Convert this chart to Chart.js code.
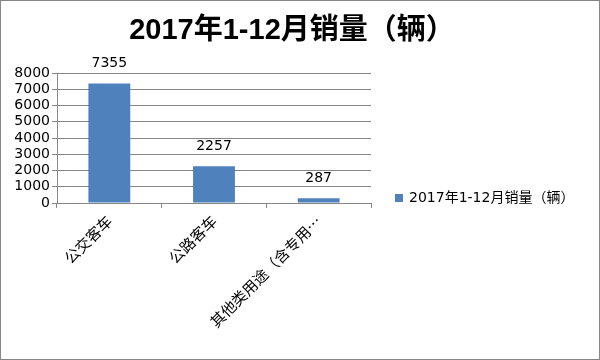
<!DOCTYPE html>
<html>
<head>
<meta charset="utf-8">
<script src="https://cdn.jsdelivr.net/npm/chart.js@4/dist/chart.umd.min.js"></script>
<style>
  html, body { margin: 0; padding: 0; background: #fff; }
  canvas { display: block; }
</style>
</head>
<body>
<canvas id="grafico" width="600" height="360"></canvas>
<script>
// datos
const categorias = ['公交客车', '公路客车', '其他类用途（含专用…'];
const ventas = [7355, 2257, 287];
const nombreSerie = '2017年1-12月销量（辆）';
const titulo = '2017年1-12月销量（辆）';

const fuente = "'DejaVu Sans', 'Noto Sans CJK SC', sans-serif";
const fuenteTitulo = "'Liberation Sans', 'Noto Sans CJK SC', sans-serif";
const gris = '#868686';

// borde exterior, titulo y leyenda
const marcoYLeyenda = {
    id: 'marcoYLeyenda',
    beforeDraw(chart) {
        const ctx = chart.ctx;
        ctx.save();
        ctx.fillStyle = '#fff';
        ctx.fillRect(0, 0, chart.width, chart.height);
        ctx.restore();
    },
    afterDraw(chart) {
        const ctx = chart.ctx;
        ctx.save();
        ctx.strokeStyle = gris;
        ctx.lineWidth = 1;
        ctx.strokeRect(0.5, 0.5, chart.width - 1, chart.height - 1);
        // titulo
        ctx.fillStyle = '#000';
        ctx.font = "bold 29px " + fuenteTitulo;
        ctx.textAlign = 'center';
        ctx.textBaseline = 'middle';
        ctx.fillText(titulo, 292, 31);
        // leyenda
        ctx.fillStyle = '#4f81bd';
        ctx.fillRect(395, 194, 8, 8);
        ctx.fillStyle = '#000';
        ctx.font = "14px " + fuente;
        ctx.textAlign = 'left';
        ctx.fillText(chart.data.datasets[0].label, 409, 198);
        ctx.restore();
    }
};

// etiquetas encima de cada barra
const etiquetasValor = {
    id: 'etiquetasValor',
    afterDatasetsDraw(chart) {
        const ctx = chart.ctx;
        const meta = chart.getDatasetMeta(0);
        ctx.save();
        ctx.font = "14px " + fuente;
        ctx.fillStyle = '#000';
        ctx.textAlign = 'center';
        ctx.textBaseline = 'bottom';
        meta.data.forEach((barra, i) => {
            ctx.fillText(chart.data.datasets[0].data[i], barra.x, barra.y - 13);
        });
        ctx.restore();
    }
};

const canvas = document.querySelector('#grafico');
const miGrafico = new Chart(canvas, {
    type: 'bar',
    data: {
        labels: categorias,
        datasets: [{
            label: nombreSerie,
            data: ventas,
            backgroundColor: '#4f81bd',
            borderWidth: 0,
            barPercentage: 0.4,
            categoryPercentage: 1
        }]
    },
    options: {
        responsive: false,
        animation: false,
        layout: { padding: { left: 0, right: 229, top: 73, bottom: 0 } },
        plugins: {
            title: { display: false },
            legend: { display: false },
            tooltip: { enabled: false }
        },
        scales: {
            x: {
                offset: true,
                grid: { display: true, drawOnChartArea: false, drawTicks: true, tickLength: 5, color: gris, offset: true },
                border: { color: gris },
                ticks: {
                    maxRotation: 45, minRotation: 45,
                    color: '#000',
                    padding: 4,
                    font: { family: "'Noto Sans CJK SC', sans-serif", size: 15 }
                },
                afterFit(scale) { scale.height = 157; }
            },
            y: {
                min: 0, max: 8000,
                ticks: {
                    stepSize: 1000, autoSkip: false, color: '#000', padding: 2,
                    font: { family: fuente, size: 14 },
                    callback: v => String(v)
                },
                grid: { color: gris, tickLength: 5 },
                border: { color: gris },
                afterFit(scale) { scale.width = 57; }
            }
        }
    },
    plugins: [marcoYLeyenda, etiquetasValor]
});
</script>
</body>
</html>
